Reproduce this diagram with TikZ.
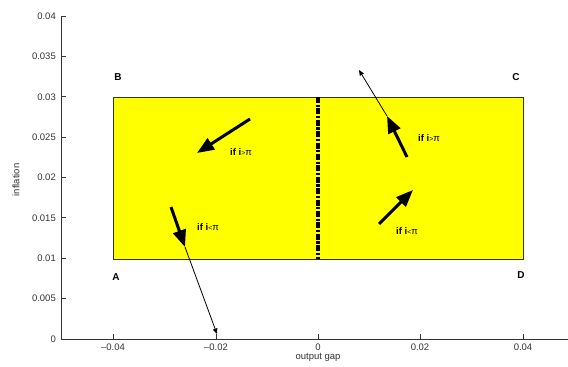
\documentclass[tikz,border=0pt]{standalone}
\usepackage{fontspec}
\setmainfont{Liberation Sans}
\usetikzlibrary{arrows.meta}
\definecolor{axisgray}{HTML}{333333}
\definecolor{plotyellow}{HTML}{FFFF00}
\begin{document}
\begin{tikzpicture}[x=1pt,y=-1pt,
  axisline/.style={draw=axisgray,line width=0.9pt},
  ticklbl/.style={font=\fontsize{9.5}{10}\selectfont,inner sep=0pt,text=axisgray},
  corner/.style={font=\fontsize{10}{11}\selectfont\bfseries,inner sep=0pt},
  caselbl/.style={font=\fontsize{9.5}{10}\selectfont,inner sep=0pt},
  bigarrow/.style={line width=3pt,-{Triangle[length=17pt,width=13pt]}},
  thinarrow/.style={line width=0.8pt,-{Triangle[length=5.5pt,width=4.5pt]}}]
\useasboundingbox (0,0) rectangle (568,367);
% region
\node[draw=axisgray,line width=0.9pt,fill=plotyellow,minimum width=410pt,minimum height=162pt,inner sep=0pt,anchor=north west] (region) at (113,97) {};
\coordinate (midtop) at (318,97);
\coordinate (midbot) at (318,259);
\draw[line width=3.6pt,dash pattern=on 6pt off 1.6pt on 2.2pt off 1.6pt] (midtop) -- (midbot);
% axes
\coordinate (origin) at (61,339);
\coordinate (ytop) at (61,16);
\coordinate (xend) at (568,339);
\draw[axisline] (ytop) -- (origin) -- (xend);
% y ticks
\foreach \v/\lab in {0/0,1/0.005,2/0.01,3/0.015,4/0.02,5/0.025,6/0.03,7/0.035,8/0.04}{
  \draw[axisline] (61,339-40.375*\v) -- (66,339-40.375*\v);
  \node[ticklbl,anchor=east] (yt\v) at (56,339-40.375*\v) {\lab};
}
% x ticks
\foreach \i/\xx/\lab in {1/113/{--0.04},2/216/{--0.02},3/318/{0},4/420/{0.02},5/523/{0.04}}{
  \draw[axisline] (\xx,339) -- (\xx,334);
  \node[ticklbl,anchor=north] (xt\i) at (\xx,344) {\lab};
}
\node[ticklbl,anchor=north] (xlabel) at (318,353) {output gap};
\node[ticklbl,rotate=90] (ylabel) at (16,180) {inflation};
% corners
\node[corner] (B) at (118,77) {B};
\node[corner] (C) at (516,77) {C};
\node[corner] (A) at (116,277) {A};
\node[corner] (D) at (521,275) {D};
% arrows
\coordinate (a1s) at (250,119);
\coordinate (a1e) at (197,153);
\draw[bigarrow] (a1s) -- (a1e);
\node[caselbl,anchor=west] (l1) at (230,152) {\textbf{if i}{\fontsize{7}{8}\selectfont>}π};

\coordinate (a2s) at (171,207);
\coordinate (a2e) at (185,247);
\coordinate (a2t) at (217,334);
\draw[thinarrow] (a2e) -- (a2t);
\draw[bigarrow] (a2s) -- (a2e);
\node[caselbl,anchor=west] (l2) at (197,227) {\textbf{if i}{\fontsize{7}{8}\selectfont<}π};

\coordinate (a3s) at (407,157);
\coordinate (a3e) at (387,116);
\coordinate (a3t) at (359,70);
\draw[thinarrow] (a3e) -- (a3t);
\draw[bigarrow] (a3s) -- (a3e);
\node[caselbl,anchor=west] (l3) at (418,138) {\textbf{if i}{\fontsize{7}{8}\selectfont>}π};

\coordinate (a4s) at (379,224);
\coordinate (a4e) at (413,190);
\draw[bigarrow] (a4s) -- (a4e);
\node[caselbl,anchor=west] (l4) at (396,231) {\textbf{if i}{\fontsize{7}{8}\selectfont<}π};
\end{tikzpicture}
\end{document}
